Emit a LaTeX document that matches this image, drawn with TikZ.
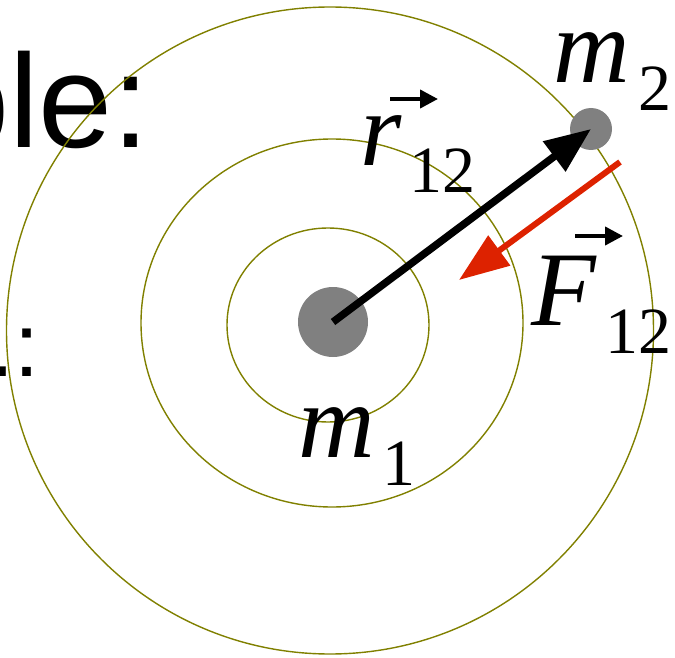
\documentclass[tikz,border=0pt]{standalone}
\usepackage{fontspec}
\setmainfont{Liberation Serif}
\newfontfamily\slidefont{Liberation Sans}
\usepackage{xcolor}
\definecolor{orbit}{RGB}{128,128,0}
\definecolor{mass}{RGB}{128,128,128}
\definecolor{force}{RGB}{221,34,0}
\usetikzlibrary{arrows.meta}
\newcommand\bigletter{\fontsize{106}{106}\selectfont\itshape}
\newcommand\smallidx{\fontsize{66}{66}\selectfont\upshape}
\newcommand\veclbl[3]{{\bigletter #1}\kern #3\raisebox{-28pt}{\smallidx #2}}
\tikzset{
  orbitline/.style={draw=orbit, line width=1.4pt},
  massdot/.style={circle, fill=mass, inner sep=0pt},
  radiusarrow/.style={line width=7.5pt, -{Triangle[length=46pt,width=36pt]}},
  forcearrow/.style={force, line width=6pt, -{Triangle[length=50pt,width=36pt]}},
  vecmark/.style={line width=4pt, -{Triangle[length=18pt,width=18pt]}},
  lbl/.style={inner sep=0pt, anchor=base west},
  slidetext/.style={inner sep=0pt, anchor=base east, font=\slidefont}
}
\begin{document}
\begin{tikzpicture}[x=1pt,y=-1pt]
  \useasboundingbox (0,0) rectangle (675,658);
  \clip (0,0) rectangle (675,658);
  % cut-off slide text behind the figure
  \node[slidetext] (title) at (150,148) {\fontsize{133}{133}\selectfont ple:};
  \node[slidetext] (item) at (40,376) {\fontsize{90}{90}\selectfont .:};
  % equipotential rings
  \draw[orbitline] (330,330.5) circle[radius=323.5];
  \draw[orbitline] (332,323) ellipse[x radius=191, y radius=184];
  \draw[orbitline] (328,325) ellipse[x radius=101, y radius=97];
  % the two masses
  \node[massdot, minimum size=70pt] (m1) at (333,322) {};
  \node[massdot, minimum size=42pt] (m2) at (591,129) {};
  \draw[radiusarrow] (m1.center) -- (m2.center);
  \coordinate (ftail) at (620,162);
  \coordinate (fhead) at (459,280);
  \draw[forcearrow] (ftail) -- (fhead);
  % labels
  \node[lbl] (m2lab) at (553,83) {\veclbl{m}{2}{9pt}};
  \node[lbl] (rlab) at (360,165) {\veclbl{r}{12}{8pt}};
  \node[lbl] (flab) at (531,325) {\veclbl{F}{12}{10pt}};
  \node[lbl] (m1lab) at (298,457) {\veclbl{m}{1}{8pt}};
  \coordinate (rv0) at (390,99);
  \coordinate (rv1) at (438,99);
  \coordinate (fv0) at (575,236);
  \coordinate (fv1) at (623,236);
  \draw[vecmark] (rv0) -- (rv1);
  \draw[vecmark] (fv0) -- (fv1);
\end{tikzpicture}
\end{document}
